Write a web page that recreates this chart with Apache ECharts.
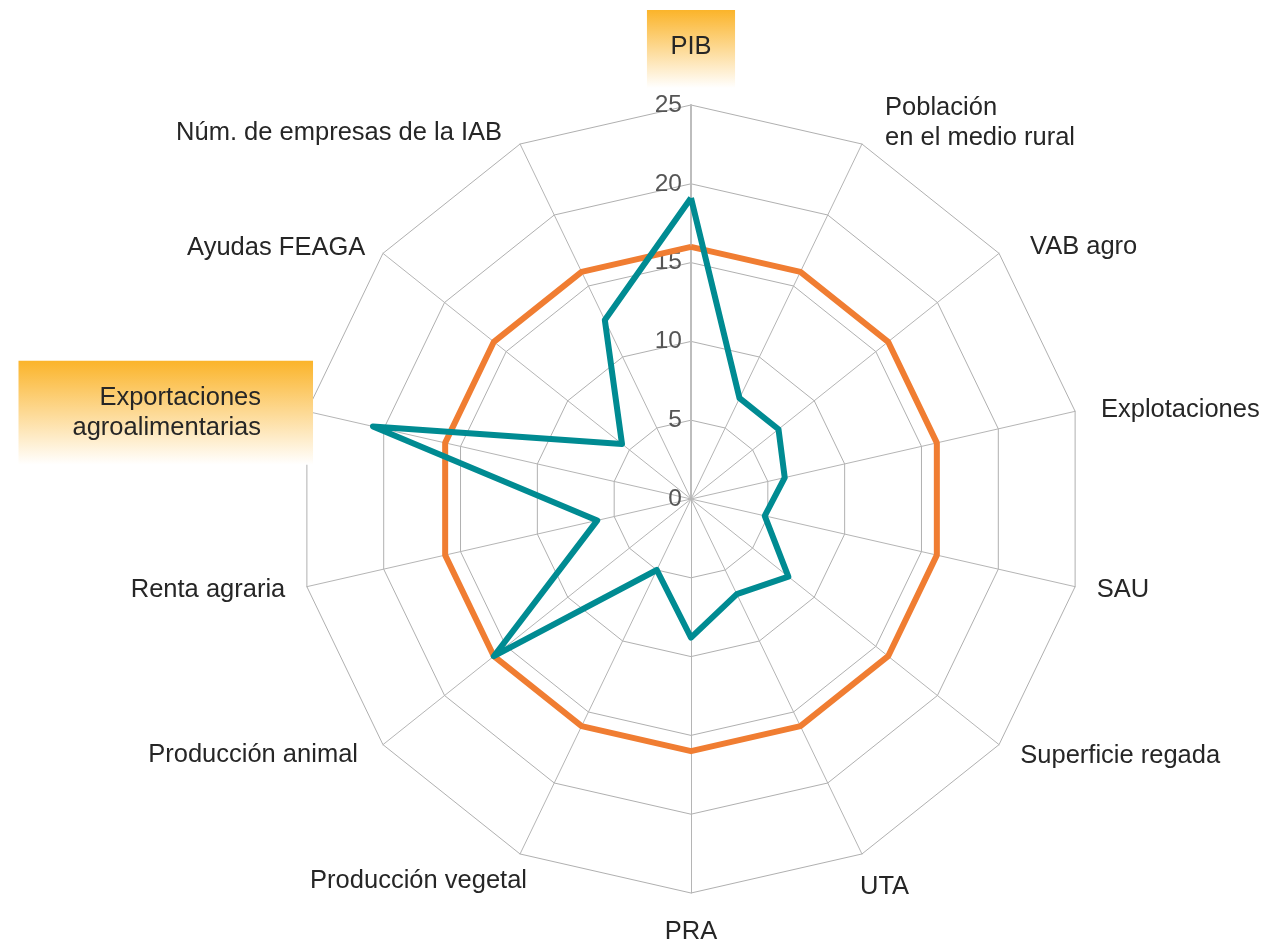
<!DOCTYPE html>
<html>
<head>
<meta charset="utf-8">
<script src="https://cdn.jsdelivr.net/npm/echarts@6/dist/echarts.min.js"></script>
<style>
html,body{margin:0;padding:0;background:#fff;}
#chart{width:1269px;height:943px;}
</style>
</head>
<body>
<div id="chart"></div>
<script>
// ---- data (clockwise from the top) ----
const categories = ['PIB', 'Población\nen el medio rural', 'VAB agro', 'Explotaciones', 'SAU',
  'Superficie regada', 'UTA', 'PRA', 'Producción vegetal', 'Producción animal',
  'Renta agraria', 'Exportaciones\nagroalimentarias', 'Ayudas FEAGA', 'Núm. de empresas de la IAB'];
const tealValues = [19.1, 7.1, 7.1, 6.1, 4.8, 7.9, 6.7, 8.8, 5.0, 16.0, 6.1, 20.7, 5.6, 12.6];
const orangeValues = [16, 16, 16, 16, 16, 16, 16, 16, 16, 16, 16, 16, 16, 16];
const highlighted = ['PIB', 'Exportaciones\nagroalimentarias'];
const axisMin = 0, axisMax = 25, axisSplits = 5;

// ---- label layout (style only), same order as categories ----
const labelGap = [17, 23.3, 10.2, 6, 15, 18.2, -4.5, 20, -16, 16.6, 15, -6.3, 8.6, 12.2];
const labelVAlign = [null, null, null, null, null, null, 'top', null, 'top', null, null, null, null, null];
const labelPad = [
  [22, 23.5, 26, 23.5],
  [0, 0, 0, 13],
  [0, 0, 0, 23],
  [0, 0, 0, 20],
  [0, 0, 0, 7],
  [0, 0, 0, 7],
  [22.5, 0, 0, 0],
  [4, 0, 0, 0],
  [26, 0, 0, 0],
  [0, 12, 0, 0],
  [0, 7, 0, 0],
  [22, 52, 22, 54],
  [0, 11, 0, 0],
  [0, 12.7, 0, 0]
];
const hlBackground = {
  type: 'linear', x: 0, y: 0, x2: 0, y2: 1,
  colorStops: [{offset: 0, color: '#FBB42A'}, {offset: 1, color: '#FFFFFF'}]
};

// ECharts places indicators counter-clockwise: keep the first, reverse the rest
const order = [0].concat(categories.map(function (_, i) { return i; }).slice(1).reverse());

const indicator = order.map(function (i) {
  const name = categories[i];
  const ind = {
    name: name, min: axisMin, max: axisMax,
    nameGap: labelGap[i],
    nameTextStyle: { padding: labelPad[i] }
  };
  if (labelVAlign[i]) ind.nameTextStyle.verticalAlign = labelVAlign[i];
  if (highlighted.indexOf(name) >= 0) {
    ind.nameTextStyle.backgroundColor = hlBackground;
  }
  if (i === 0) {
    ind.axisLabel = { show: true };
    ind.axisLine = { lineStyle: { color: '#bdbdbd', width: 2 } };
  }
  return ind;
});
const tealOrdered = order.map(function (i) { return tealValues[i]; });
const orangeOrdered = order.map(function (i) { return orangeValues[i]; });

const chart = echarts.init(document.getElementById('chart'), null, {renderer: 'canvas'});
chart.setOption({
  backgroundColor: '#ffffff',
  animation: false,
  radar: {
    center: [691, 499],
    radius: 394,
    shape: 'polygon',
    splitNumber: axisSplits,
    startAngle: 90,
    indicator: indicator,
    axisName: {
      color: '#262626',
      fontFamily: 'Liberation Sans, Arial, sans-serif',
      fontSize: 25.5,
      lineHeight: 30
    },
    axisNameGap: 20,
    axisLabel: {
      show: false,
      color: '#555555',
      fontFamily: 'Liberation Sans, Arial, sans-serif',
      fontSize: 24.5,
      margin: 9
    },
    axisTick: { show: false },
    axisLine: { show: true, lineStyle: { color: '#b5b5b5', width: 1 } },
    splitLine: { show: true, lineStyle: { color: '#b0b0b0', width: 1 } },
    splitArea: { show: false }
  },
  series: [{
    type: 'radar',
    symbol: 'none',
    z: 2,
    data: [
      { name: 'Serie naranja', value: orangeOrdered,
        lineStyle: { color: '#F07D32', width: 6, join: 'round' }, itemStyle: { color: '#F07D32' } },
      { name: 'Serie verde', value: tealOrdered,
        lineStyle: { color: '#008B92', width: 6, join: 'round' }, itemStyle: { color: '#008B92' } }
    ]
  }]
});
</script>
</body>
</html>
